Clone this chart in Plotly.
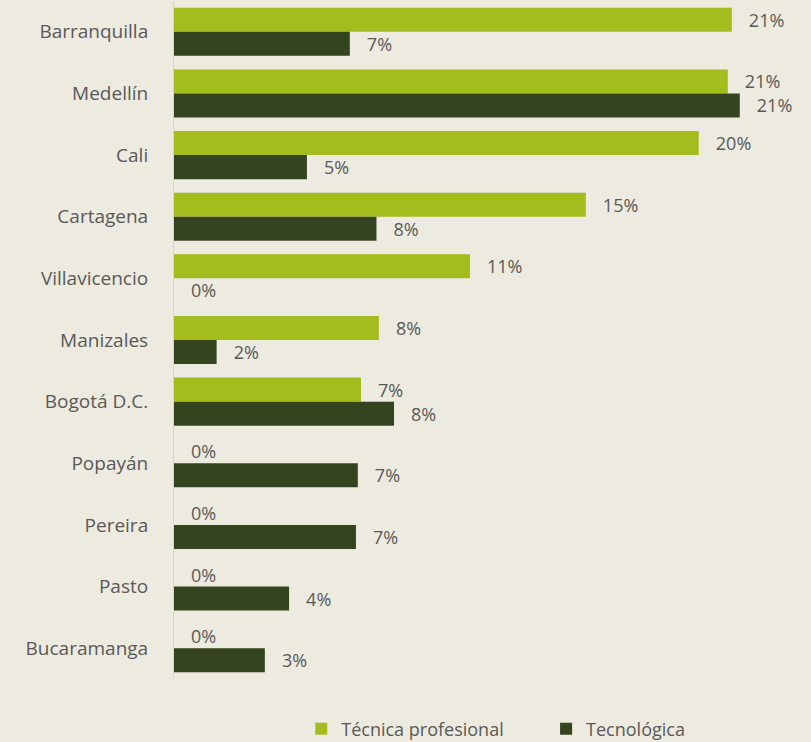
import plotly.graph_objects as go

cities = ["Barranquilla", "Medellín", "Cali", "Cartagena", "Villavicencio", "Manizales",
          "Bogotá D.C.", "Popayán", "Pereira", "Pasto", "Bucaramanga"]
tecnica_profesional = [0.2094, 0.2079, 0.1970, 0.1546, 0.1111, 0.0769, 0.0702, 0.0, 0.0, 0.0, 0.0]
tecnologica = [0.0660, 0.2124, 0.0499, 0.0760, 0.0, 0.0160, 0.0826, 0.0690, 0.0683, 0.0432, 0.0341]

BG = "rgb(237,234,224)"
LIGHT = "rgb(163,188,30)"
DARK = "rgb(52,68,30)"
TXT = "#595959"
FONT = "Open Sans"
NB = "\u00a0\u00a0\u00a0"

fig = go.Figure()
fig.add_trace(go.Bar(
    y=cities, x=tecnica_profesional, orientation="h",
    name="Técnica profesional" + "\u00a0" * 8,
    marker=dict(color=LIGHT, line=dict(width=0)),
    texttemplate=NB + "%{x:.0%}", textposition="outside", cliponaxis=False,
    textfont=dict(color=TXT, size=18, family=FONT)))
fig.add_trace(go.Bar(
    y=cities, x=tecnologica, orientation="h", name="Tecnológica",
    marker=dict(color=DARK, line=dict(width=0)),
    texttemplate=NB + "%{x:.0%}", textposition="outside", cliponaxis=False,
    textfont=dict(color=TXT, size=18, family=FONT)))

fig.update_layout(
    width=811, height=742,
    paper_bgcolor=BG, plot_bgcolor=BG,
    margin=dict(l=174, r=11, t=1, b=63),
    barmode="group", bargap=0.22, bargroupgap=0,
    font=dict(family=FONT, color=TXT, size=18),
    showlegend=True,
    legend=dict(orientation="h", x=0.514, xanchor="center",
                yref="container", y=0.0175, yanchor="middle",
                font=dict(size=18, color=TXT, family=FONT), bgcolor="rgba(0,0,0,0)",
                itemwidth=30, tracegroupgap=0),
    xaxis=dict(range=[0, 0.235], visible=False, showgrid=False, zeroline=False),
    yaxis=dict(autorange="reversed", showgrid=False, zeroline=False,
               showline=True, linecolor="#d6d6d0", linewidth=1,
               ticks="", ticklabelstandoff=21,
               tickfont=dict(size=19, color=TXT, family=FONT)),
    uniformtext=dict(minsize=18, mode="show"),
)

fig.write_html("out.html", config={"displayModeBar": False},
               post_script="document.body.style.margin='0';document.body.style.background='" + BG + "';")
